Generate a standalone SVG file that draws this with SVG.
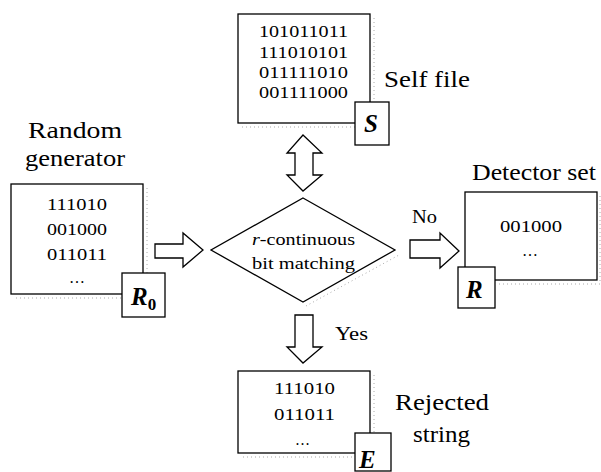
<svg xmlns="http://www.w3.org/2000/svg" width="601" height="472" viewBox="0 0 601 472">
  <style>
    .box { fill: #fff; stroke: #000; stroke-width: 1.3; }
    .tag { fill: #fff; stroke: #000; stroke-width: 1.3; }
    .shade { fill: none; stroke: #aaa; stroke-width: 1; stroke-dasharray: 1 3; }
    .arrow { fill: #fff; stroke: #000; stroke-width: 1.3; stroke-linejoin: miter; }
    text { font-family: "Liberation Serif", "Times New Roman", Times, Tinos, "Nimbus Roman", "Nimbus Roman No9 L", FreeSerif, "Noto Serif", "DejaVu Serif", serif; fill: #000; }
    .bits { font-size: 17.5px; }
    .title { font-size: 23px; }
    .lab { font-size: 19px; }
    .cond { font-size: 17px; }
    .tagtext { font-size: 25px; font-weight: bold; font-style: italic; }
  </style>

  <!-- Random generator R0 -->
  <g id="random-generator">
    <text class="title" x="28" y="138" textLength="94" lengthAdjust="spacingAndGlyphs">Random</text>
    <text class="title" x="25" y="166" textLength="100" lengthAdjust="spacingAndGlyphs">generator</text>
    <polyline class="shade" points="147,188 147,298 15,298"/>
    <rect class="box" x="11" y="184" width="132" height="110"/>
    <text class="bits" x="47" y="210" textLength="60" lengthAdjust="spacingAndGlyphs">111010</text>
    <text class="bits" x="47" y="235" textLength="60" lengthAdjust="spacingAndGlyphs">001000</text>
    <text class="bits" x="47" y="260" textLength="60" lengthAdjust="spacingAndGlyphs">011011</text>
    <text class="bits" x="69" y="283" textLength="16" lengthAdjust="spacingAndGlyphs">…</text>
    <rect class="tag" x="122" y="273" width="43" height="44"/>
    <text class="tagtext" x="131" y="305">R<tspan font-size="17" font-style="normal" dy="5">0</tspan></text>
  </g>

  <!-- Self file S -->
  <g id="self-file">
    <polyline class="shade" points="374,18 374,127 242,127"/>
    <rect class="box" x="238" y="14" width="132" height="109"/>
    <text class="bits" x="259" y="37" textLength="89" lengthAdjust="spacingAndGlyphs">101011011</text>
    <text class="bits" x="259" y="58" textLength="89" lengthAdjust="spacingAndGlyphs">111010101</text>
    <text class="bits" x="259" y="78" textLength="89" lengthAdjust="spacingAndGlyphs">011111010</text>
    <text class="bits" x="259" y="98" textLength="89" lengthAdjust="spacingAndGlyphs">001111000</text>
    <rect class="tag" x="355" y="102" width="34" height="43"/>
    <text class="tagtext" x="364" y="132" font-size="24">S</text>
    <text class="title" x="384" y="87" textLength="86" lengthAdjust="spacingAndGlyphs">Self file</text>
  </g>

  <!-- Matching test -->
  <g id="matching">
    <polyline class="shade" points="306,306 399,255"/>
    <polygon fill="#fff" stroke="#000" stroke-width="1.3" points="303,198 395,250 303,302 211,250"/>
    <text class="cond" x="252" y="245" textLength="103" lengthAdjust="spacingAndGlyphs"><tspan font-style="italic">r</tspan>-continuous</text>
    <text class="cond" x="252" y="269" textLength="103" lengthAdjust="spacingAndGlyphs">bit matching</text>
  </g>

  <!-- Detector set R -->
  <g id="detector-set">
    <text class="title" x="472" y="180" textLength="124" lengthAdjust="spacingAndGlyphs">Detector set</text>
    <polyline class="shade" points="600,196 600,284 498,284"/>
    <rect class="box" x="465" y="192" width="132" height="88"/>
    <text class="bits" x="500" y="232" textLength="62" lengthAdjust="spacingAndGlyphs">001000</text>
    <text class="bits" x="522" y="256" textLength="16" lengthAdjust="spacingAndGlyphs">…</text>
    <rect class="tag" x="458" y="267" width="37" height="41"/>
    <text class="tagtext" x="466" y="298">R</text>
  </g>

  <!-- Rejected string E -->
  <g id="rejected-string">
    <polyline class="shade" points="374,375 374,457 242,457"/>
    <rect class="box" x="238" y="371" width="132" height="82"/>
    <text class="bits" x="274" y="394" textLength="61" lengthAdjust="spacingAndGlyphs">111010</text>
    <text class="bits" x="274" y="420" textLength="61" lengthAdjust="spacingAndGlyphs">011011</text>
    <text class="bits" x="295" y="445" textLength="15" lengthAdjust="spacingAndGlyphs">…</text>
    <rect class="tag" x="355" y="433" width="36" height="38"/>
    <text class="tagtext" x="359" y="468">E</text>
    <text class="title" x="395" y="410" textLength="94" lengthAdjust="spacingAndGlyphs">Rejected</text>
    <text class="title" x="413" y="442" textLength="57" lengthAdjust="spacingAndGlyphs">string</text>
  </g>

  <!-- Connectors: block arrows -->
  <g id="connectors">
    <!-- generator to matching -->
    <polygon class="arrow" points="155,244 183,244 183,233 203,250 183,267 183,258 155,258"/>
    <!-- self file <-> matching -->
    <polygon class="arrow" points="303,135 322,153 313,153 313,175 322,175 303,191 287,175 295,175 295,153 287,153"/>
    <!-- No: to detector set -->
    <polygon class="arrow" points="410,240 440,240 440,233 459,251 440,268 440,258 410,258"/>
    <text class="lab" x="412" y="223" textLength="25" lengthAdjust="spacingAndGlyphs">No</text>
    <!-- Yes: to rejected string -->
    <polygon class="arrow" points="295,315 313,315 313,347 322,347 303,363 287,347 295,347"/>
    <text class="lab" x="335" y="340" textLength="33" lengthAdjust="spacingAndGlyphs">Yes</text>
  </g>
</svg>
